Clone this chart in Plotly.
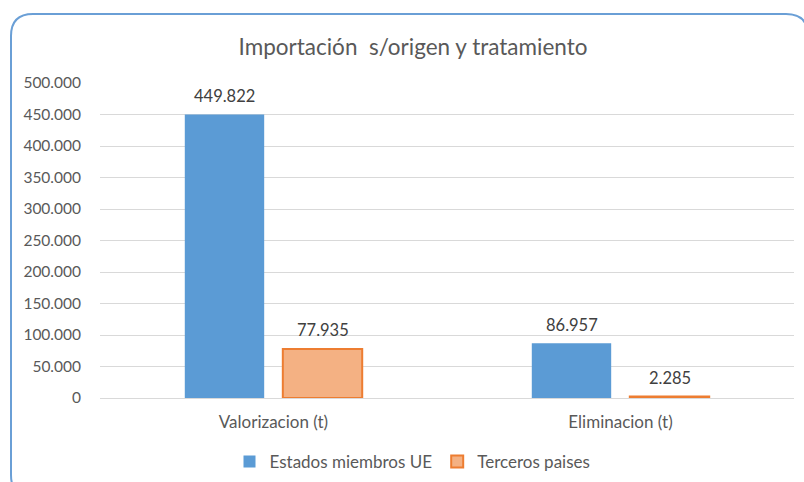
import plotly.graph_objects as go

categories = ["Valorizacion (t)", "Eliminacion (t)"]
estados_ue = [449822, 86957]
terceros = [77935, 2285]
series_names = ["Estados miembros UE", "Terceros paises"]
tick_vals = [0, 50000, 100000, 150000, 200000, 250000, 300000, 350000, 400000, 450000, 500000]

FONT = "Lato"
W, H = 804, 482

fig = go.Figure()
fig.add_trace(go.Bar(
    x=categories, y=estados_ue, name=series_names[0],
    marker=dict(color="#5B9BD5", line=dict(width=0)),
))
fig.add_trace(go.Bar(
    x=categories, y=terceros, name=series_names[1],
    marker=dict(color="#F4B183", line=dict(color="#ED7D31", width=2)),
))

# data labels placed above each bar (through the data axes)
annotations = []
for shift, vals in ((-49, estados_ue), (49, terceros)):
    for cat, v in zip(categories, vals):
        annotations.append(dict(
            x=cat, y=v, xref="x", yref="y", text=f"{v:,}".replace(",", "."),
            showarrow=False, xshift=shift, yshift=18.5, yanchor="middle",
            font=dict(size=16.5, color="#404040", family=FONT)))

# rounded frame (paper == full figure because margins are zero)
x0, y0, x1, y1, r = 11, 14, 808, 497, 22
def px(x): return x / W
def py(y): return 1 - y / H
path = (f"M {px(x0)},{py(y0 + r)} Q {px(x0)},{py(y0)} {px(x0 + r)},{py(y0)} "
        f"L {px(x1 - r)},{py(y0)} Q {px(x1)},{py(y0)} {px(x1)},{py(y0 + r)} "
        f"L {px(x1)},{py(y1 - r)} Q {px(x1)},{py(y1)} {px(x1 - r)},{py(y1)} "
        f"L {px(x0 + r)},{py(y1)} Q {px(x0)},{py(y1)} {px(x0)},{py(y1 - r)} Z")

fig.update_layout(
    width=W, height=H,
    margin=dict(l=0, r=0, t=0, b=0, autoexpand=False),
    paper_bgcolor="white", plot_bgcolor="white",
    separators=",.",
    barmode="group", bargap=0.435, bargroupgap=0.19,
    font=dict(family=FONT, color="#595959", size=17),
    title=dict(text="Importación  s/origen y tratamiento", x=413 / W, xanchor="center",
               y=1 - 47 / H, yanchor="middle",
               font=dict(size=22.5, color="#595959", family=FONT)),
    xaxis=dict(domain=[100 / W, 794 / W], showgrid=False, showline=False, ticks="",
               automargin=False, ticklabelstandoff=12,
               tickfont=dict(size=17, color="#595959")),
    yaxis=dict(domain=[1 - 398 / H, 1 - 83 / H], range=[0, 500000], tickvals=tick_vals,
               tickformat=",d", showgrid=True, gridcolor="#D9D9D9", gridwidth=1,
               zeroline=True, zerolinecolor="#D9D9D9", zerolinewidth=1,
               showline=False, ticks="", ticklabelstandoff=18, automargin=False,
               tickfont=dict(size=15.5, color="#595959")),
    legend=dict(orientation="h", x=412.5 / W, xanchor="center", y=1 - 462 / H, yanchor="middle",
                font=dict(size=17, color="#595959"), traceorder="normal"),
    showlegend=True,
    annotations=annotations,
    shapes=[dict(type="path", path=path, xref="paper", yref="paper",
                 line=dict(color="#6A9FD6", width=2), fillcolor="rgba(0,0,0,0)", layer="below")],
)

fig.write_html("out.html", config={"displayModeBar": False},
               post_script="document.body.style.margin='0';")
